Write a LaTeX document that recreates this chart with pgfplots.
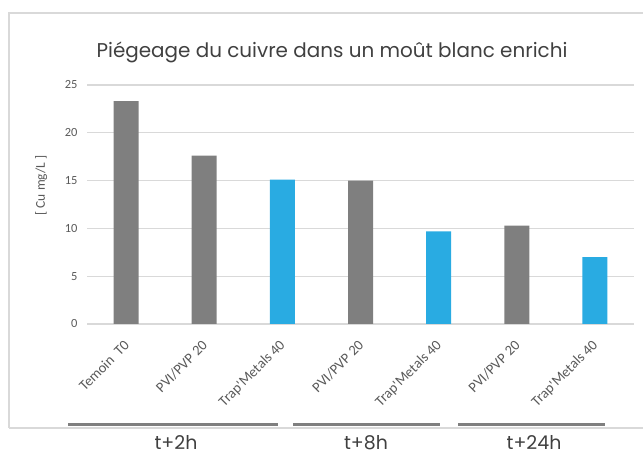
\documentclass[border=0pt]{standalone}
\usepackage{pgfplots}
\pgfplotsset{compat=1.18}
\usepackage{fontspec}
\setmainfont{Carlito}
\newfontfamily\gothic{Poppins}
\definecolor{bargray}{HTML}{7F7F7F}
\definecolor{barblue}{HTML}{29ABE2}
\definecolor{gridgray}{HTML}{D9D9D9}
\definecolor{txtgray}{HTML}{595959}
\definecolor{titlegray}{HTML}{404040}
\begin{document}
\begin{tikzpicture}[x=1bp,y=1bp]
\useasboundingbox (0,0) rectangle (643,455);
% chart frame
\draw[gridgray, line width=1.2bp] (9,27) -- (9,442) -- (660,442);
\draw[gridgray, line width=1.2bp] (9,27) -- (660,27);
\begin{axis}[
  at={(87bp,131bp)}, anchor=south west,
  scale only axis, width=547bp, height=239bp,
  xmin=-0.5, xmax=6.5, ymin=0, ymax=25,
  ytick={0,5,10,15,20,25},
  xtick={0,1,2,3,4,5,6},
  xticklabels={Temoin\ \ T0, PVI/PVP 20, Trap\textquotesingle Metals 40, PVI/PVP 20, Trap\textquotesingle Metals 40, PVI/PVP 20, Trap\textquotesingle Metals 40},
  ymajorgrids, grid style={draw=gridgray, line width=1.3bp},
  axis line style={draw=none},
  major tick length=0pt,
  /pgf/number format/assume math mode=true,
  yticklabel style={font=\fontsize{12.5}{14}\selectfont, text=txtgray, xshift=-6bp},
  xticklabel style={font=\fontsize{14.5}{16}\selectfont, text=txtgray, rotate=45, anchor=east, inner sep=0pt, xshift=-13bp, yshift=-14bp},
  ylabel={[ Cu mg/L ]},
  every axis y label/.style={at={(axis description cs:-0.084,0.58)}, rotate=90, anchor=center, font=\fontsize{13.5}{15}\selectfont, text=txtgray},
  ybar, bar width=25bp, bar shift=0pt,
  clip=false,
]
\addplot[fill=bargray, draw=none] coordinates {(0,23.3) (1,17.6) (3,15.0) (5,10.3)};
\addplot[fill=barblue, draw=none] coordinates {(2,15.1) (4,9.7) (6,7.0)};
\end{axis}
% title
\node[font=\gothic\fontsize{20}{22}\selectfont, text=titlegray] at (332,403) {Piégeage du cuivre dans un moût blanc enrichi};
% group lines and labels
\draw[bargray, line width=3bp] (68,30) -- (278,30);
\draw[bargray, line width=3bp] (293,30) -- (440,30);
\draw[bargray, line width=3bp] (458,30) -- (605,30);
\node[font=\gothic\fontsize{19}{22}\selectfont, text=titlegray, anchor=base] at (176,5) {t+2h};
\node[font=\gothic\fontsize{19}{22}\selectfont, text=titlegray, anchor=base] at (366,5) {t+8h};
\node[font=\gothic\fontsize{19}{22}\selectfont, text=titlegray, anchor=base] at (534,5) {t+24h};
\end{tikzpicture}
\end{document}
